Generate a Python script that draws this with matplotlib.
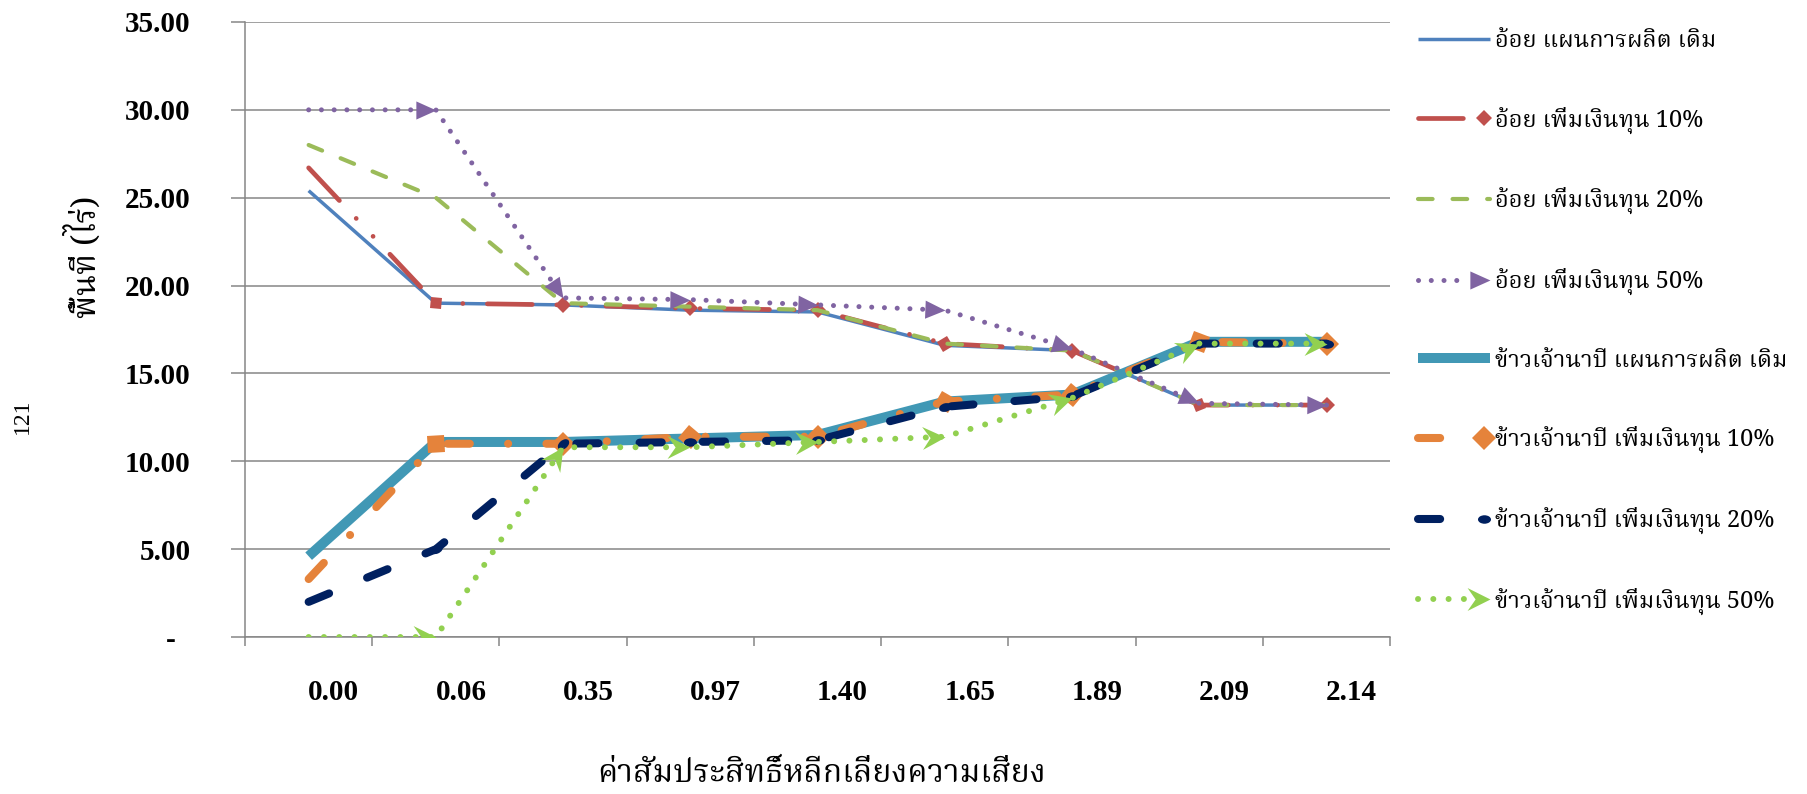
import numpy as np
import matplotlib
matplotlib.use('Agg')
import matplotlib.pyplot as plt
from matplotlib import font_manager
from matplotlib.ft2font import FT2Font
from matplotlib.legend_handler import HandlerLine2D
from matplotlib.lines import Line2D
from matplotlib.markers import MarkerStyle
from matplotlib.path import Path
from matplotlib.transforms import Affine2D, ScaledTranslation

#################################################
# Data.
x_labels = ['0.00', '0.06', '0.35', '0.97', '1.40', '1.65', '1.89', '2.09', '2.14']

series_names = ['อ้อย แผนการผลิต เดิม',
                'อ้อย เพิ่มเงินทุน 10%',
                'อ้อย เพิ่มเงินทุน 20%',
                'อ้อย เพิ่มเงินทุน 50%',
                'ข้าวเจ้านาปี แผนการผลิต เดิม',
                'ข้าวเจ้านาปี เพิ่มเงินทุน 10%',
                'ข้าวเจ้านาปี เพิ่มเงินทุน 20%',
                'ข้าวเจ้านาปี เพิ่มเงินทุน 50%']

cane_base = [25.4, 19.0, 18.9, 18.6, 18.5, 16.6, 16.3, 13.2, 13.2]
cane_10 = [26.7, 19.0, 18.9, 18.7, 18.6, 16.7, 16.3, 13.2, 13.2]
cane_20 = [28.0, 25.0, 19.0, 18.8, 18.6, 16.7, 16.3, 13.2, 13.2]
cane_50 = [30.0, 30.0, 19.3, 19.2, 18.9, 18.6, 16.4, 13.3, 13.2]
rice_base = [4.6, 11.1, 11.1, 11.3, 11.5, 13.4, 13.8, 16.8, 16.8]
rice_10 = [3.3, 11.0, 11.0, 11.4, 11.4, 13.4, 13.8, 16.8, 16.7]
rice_20 = [2.0, 5.0, 11.0, 11.1, 11.2, 13.1, 13.7, 16.7, 16.7]
rice_50 = [0.0, 0.0, 10.8, 10.8, 11.1, 11.4, 13.6, 16.7, 16.7]

series_values = [cane_base, cane_10, cane_20, cane_50,
                 rice_base, rice_10, rice_20, rice_50]

y_ticks = [0, 5, 10, 15, 20, 25, 30, 35]

y_title = 'พื้นที่ (ไร่)'
x_title = 'ค่าสัมประสิทธิ์หลีกเลี่ยงความเสี่ยง'
page_no = '121'

#################################################
# Styles.
colors = ['#4F81BD', '#C0504D', '#9BBB59', '#8064A2',
          '#4198B5', '#E5833B', '#002060', '#92D050']
widths = [2.5, 3.4, 3.0, 3.6, 7.2, 5.8, 5.8, 4.3]
dashes = [None, (9.5, 5.2, 0.01, 5.2, 0.01, 5.2), (3.5, 4.8), (0.01, 2.54),
          None, (2.75, 4.75, 0.01, 4.75), (2.75, 5.1), (0.01, 2.55)]

# Excel style line ends, drawn at the end of every segment.
tri_path = Path([(0, 0), (-1, 0.45), (-1, -0.45), (0, 0)], closed=True)
stealth_path = Path([(0, 0), (-1, 0.5), (-0.65, 0), (-1, -0.5), (0, 0)], closed=True)
oval_path = Path.unit_circle().transformed(Affine2D().scale(1, 0.65))

end_shapes = [None, 'D', None, tri_path, None, 'D', oval_path, stealth_path]
end_sizes = [0, 8, 0, 29, 0, 12, 9.4, 33]
end_is_tip = [False, False, False, True, False, False, False, True]

grid_color = '#868686'

#################################################
# Fonts: look for anything that can draw Thai.
thai_family = None
preferred = ['Noto Serif Thai', 'Norasi', 'Kinnari', 'Noto Sans Thai Looped',
             'Noto Sans Thai', 'Garuda', 'Loma', 'Sawasdee', 'TlwgTypo']
found = []
for f in font_manager.fontManager.ttflist:
    try:
        cmap = FT2Font(f.fname).get_charmap()
    except Exception:
        continue
    if 0x0E2D in cmap and f.name not in found:
        found.append(f.name)
for name in preferred:
    if name in found:
        thai_family = name
        break
if thai_family is None and found:
    thai_family = found[0]

thai_fonts = ([thai_family] if thai_family else []) + ['Liberation Serif', 'DejaVu Sans']
serif_fonts = ['Liberation Serif', 'DejaVu Serif']

#################################################
# Display.
fig = plt.figure(figsize=(18.07, 7.94), dpi=100)
ax = fig.add_axes([0.1356, 0.1977, 0.6337, 0.7746])

ax.set_xlim(-0.5, len(x_labels) - 0.5)
ax.set_ylim(0, 35)

x = np.arange(len(x_labels))

for k, values in enumerate(series_values):
    line, = ax.plot(x, values, color=colors[k], lw=widths[k],
                    solid_capstyle='butt', dash_capstyle='round',
                    solid_joinstyle='round', dash_joinstyle='round',
                    zorder=3 + k * 0.1)
    if dashes[k] is not None:
        line.set_dashes(dashes[k])

fig.canvas.draw()

for k, values in enumerate(series_values):
    if end_shapes[k] is None:
        continue
    pts = ax.transData.transform(np.column_stack([x, values]))
    for i in range(1, len(values)):
        dx, dy = pts[i] - pts[i - 1]
        angle = np.degrees(np.arctan2(dy, dx))
        style = MarkerStyle(end_shapes[k], transform=Affine2D().rotate_deg(angle))
        ax.plot([x[i]], [values[i]], linestyle='none', marker=style,
                ms=end_sizes[k], color=colors[k], mec=colors[k], mew=0,
                zorder=3.05 + k * 0.1)

# Axes look.
for side in ['top', 'right']:
    ax.spines[side].set_visible(False)
for side in ['left', 'bottom']:
    ax.spines[side].set_color(grid_color)
    ax.spines[side].set_linewidth(1.1)

ax.set_yticks(y_ticks)
ax.set_yticklabels(['{:.2f}'.format(v) if v else '-  ' for v in y_ticks])
ax.yaxis.grid(True, color=grid_color, lw=1.1)
ax.set_axisbelow(True)
ax.tick_params(axis='y', length=10, width=1.1, color=grid_color,
               direction='out', pad=29)

ax.set_xticks(x)
ax.set_xticklabels(x_labels)
ax.set_xticks(np.arange(-0.5, len(x_labels), 1), minor=True)
ax.tick_params(axis='x', which='major', length=0, pad=30)
ax.tick_params(axis='x', which='minor', length=6.5, width=1.1,
               color=grid_color, direction='out')

for lab in ax.get_yticklabels() + ax.get_xticklabels():
    lab.set_family(serif_fonts)
    lab.set_fontweight('bold')
    lab.set_fontsize(21)

offset = ScaledTranslation(25 / 100, 0, fig.dpi_scale_trans)
for lab in ax.get_xticklabels():
    lab.set_transform(lab.get_transform() + offset)

# Titles and page number.
fig.text(85 / 1807, 1 - 257 / 794, y_title, rotation=90, ha='center',
         va='center', fontsize=23, fontweight='bold', family=thai_fonts)
fig.text(822 / 1807, 12 / 794, x_title, ha='center', va='baseline',
         fontsize=23, family=thai_fonts)
fig.text(22 / 1807, 1 - 416 / 794, page_no, rotation=90, ha='center',
         va='center', fontsize=17, family=serif_fonts)


# Legend with the line end drawn at the right, as Excel does.
class EndHandler(HandlerLine2D):
    def __init__(self, has_end, tip, **kw):
        super().__init__(**kw)
        self.has_end = has_end
        self.tip = tip

    def create_artists(self, legend, orig_handle, xdescent, ydescent,
                       width, height, fontsize, trans):
        y = (height - ydescent) / 2
        x0 = -xdescent
        if self.has_end:
            x1 = x0 + width * 0.7
        else:
            x1 = x0 + width
        legline = Line2D([x0, x1], [y, y])
        self.update_prop(legline, orig_handle, legend)
        legline.set_marker('None')
        legline.set_transform(trans)
        artists = [legline]
        if self.has_end:
            xm = x0 + width if self.tip else x0 + width * 0.92
            mark = Line2D([xm], [y])
            self.update_prop(mark, orig_handle, legend)
            mark.set_linestyle('None')
            mark.set_transform(trans)
            artists.append(mark)
        return artists


handles = []
handler_map = {}
for k in range(len(series_names)):
    h = Line2D([], [], color=colors[k], lw=widths[k], solid_capstyle='butt',
               dash_capstyle='round')
    if dashes[k] is not None:
        h.set_dashes(dashes[k])
    if end_shapes[k] is not None:
        h.set_marker(MarkerStyle(end_shapes[k]))
        h.set_markersize(end_sizes[k])
        h.set_markeredgewidth(0)
    handles.append(h)
    handler_map[h] = EndHandler(end_shapes[k] is not None, end_is_tip[k])

leg = fig.legend(handles, series_names, loc='upper left',
                 bbox_to_anchor=(1418 / 1807, 1 - 29 / 794),
                 bbox_transform=fig.transFigure, frameon=False,
                 borderaxespad=0, borderpad=0, handlelength=3.05,
                 handletextpad=0.2, labelspacing=2.27,
                 handler_map=handler_map,
                 prop=font_manager.FontProperties(family=thai_fonts,
                                                  weight='bold', size=17))

fig.savefig('out.png', dpi=100)
